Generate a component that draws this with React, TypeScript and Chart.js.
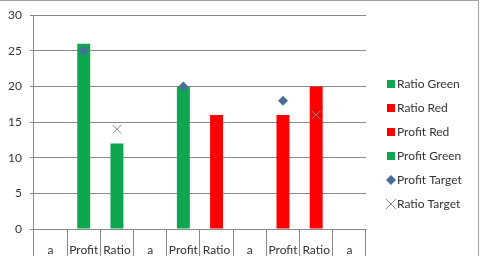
import React, { useEffect, useRef } from "react";
import { Chart, registerables } from "chart.js";

Chart.register(...registerables);

const categories = ["a", "Profit", "Ratio", "a", "Profit", "Ratio", "a", "Profit", "Ratio", "a"];
const ratioGreen = [null, null, 12, null, null, null, null, null, null, null];
const ratioRed = [null, null, null, null, null, 16, null, null, 20, null];
const profitRed = [null, null, null, null, null, null, null, 16, null, null];
const profitGreen = [null, 26, null, null, 20, null, null, null, null, null];
const profitTarget = [null, 25, null, null, 20, null, null, 18, null, null];
const ratioTarget = [null, null, 14, null, null, null, null, null, 16, null];
const yTicks = [0, 5, 10, 15, 20, 25, 30];

const GREEN = "#0fa650";
const RED = "#ff0000";
const BLUE = "#4b6d99";
const GRAY = "#8c8c8c";
const GRID = "#8a8a8a";
const TEXT = "#333333";
const FONT = "Lato";

const legendPlugin = {
  id: "customLegend",
  afterDraw(chart: any) {
    const ctx = chart.ctx;
    ctx.save();
    ctx.strokeStyle = "#a0a0a0";
    ctx.lineWidth = 1;
    ctx.beginPath();
    ctx.moveTo(0, 0.5);
    ctx.lineTo(478.5, 0.5);
    ctx.lineTo(478.5, 256);
    ctx.stroke();

    const x0 = 387;
    const y0 = 84;
    const step = 24;
    chart.data.datasets.forEach((ds: any, i: number) => {
      const cy = y0 + i * step;
      if (ds.type === "line") {
        if (ds.pointStyle === "rectRot") {
          ctx.fillStyle = ds.backgroundColor;
          ctx.beginPath();
          ctx.moveTo(x0 + 4, cy - 5);
          ctx.lineTo(x0 + 9, cy);
          ctx.lineTo(x0 + 4, cy + 5);
          ctx.lineTo(x0 - 1, cy);
          ctx.closePath();
          ctx.fill();
        } else {
          ctx.strokeStyle = ds.borderColor;
          ctx.lineWidth = 1;
          ctx.beginPath();
          ctx.moveTo(x0 - 1, cy - 5);
          ctx.lineTo(x0 + 9, cy + 5);
          ctx.moveTo(x0 + 9, cy - 5);
          ctx.lineTo(x0 - 1, cy + 5);
          ctx.stroke();
        }
      } else {
        ctx.fillStyle = ds.backgroundColor;
        ctx.fillRect(x0, cy - 4, 8, 8);
      }
      ctx.fillStyle = TEXT;
      ctx.font = `12px ${FONT}`;
      ctx.textBaseline = "middle";
      ctx.textAlign = "left";
      ctx.fillText(ds.label, x0 + 10, cy);
    });
    ctx.restore();
  },
};

export default function App() {
  const ref = useRef<HTMLCanvasElement>(null);
  useEffect(() => {
    document.body.style.margin = "0";
    const barCommon = { type: "bar", grouped: false, categoryPercentage: 1, barPercentage: 0.39, order: 2 };
    const chart = new Chart(ref.current as HTMLCanvasElement, {
      type: "bar",
      data: {
        labels: categories,
        datasets: [
          { ...barCommon, label: "Ratio Green", data: ratioGreen, backgroundColor: GREEN },
          { ...barCommon, label: "Ratio Red", data: ratioRed, backgroundColor: RED },
          { ...barCommon, label: "Profit Red", data: profitRed, backgroundColor: RED },
          { ...barCommon, label: "Profit Green", data: profitGreen, backgroundColor: GREEN },
          {
            type: "line",
            order: 1,
            label: "Profit Target",
            data: profitTarget,
            showLine: false,
            pointStyle: "rectRot",
            pointRadius: 5,
            backgroundColor: BLUE,
            borderColor: BLUE,
            borderWidth: 0,
          },
          {
            type: "line",
            order: 1,
            label: "Ratio Target",
            data: ratioTarget,
            showLine: false,
            pointStyle: "crossRot",
            pointRadius: 6,
            backgroundColor: GRAY,
            borderColor: GRAY,
            pointBorderWidth: 1,
          },
        ] as any,
      },
      options: {
        animation: false,
        responsive: false,
        layout: { padding: { left: 0, right: 114, top: 9, bottom: 0 } },
        plugins: { legend: { display: false }, tooltip: { enabled: false } },
        scales: {
          x: {
            offset: true,
            grid: {
              display: true,
              offset: true,
              drawOnChartArea: false,
              drawTicks: true,
              tickLength: 27,
              color: GRID,
            },
            border: { display: true, color: GRID },
            ticks: { color: TEXT, font: { family: FONT, size: 12 }, padding: -13, maxRotation: 0, autoSkip: false },
            afterFit(axis: any) {
              axis.height = 27;
            },
          },
          y: {
            min: 0,
            max: 30,
            afterBuildTicks(axis: any) {
              axis.ticks = yTicks.map((v) => ({ value: v }));
            },
            grid: { color: GRID, tickLength: 4, drawTicks: true },
            border: { display: true, color: GRID },
            ticks: { color: TEXT, font: { family: FONT, size: 12 }, padding: 8 },
          },
        },
      },
      plugins: [legendPlugin],
    } as any);
    return () => chart.destroy();
  }, []);
  return (
    <div style={{ width: 480, height: 256 }}>
      <canvas ref={ref} width={480} height={256} />
    </div>
  );
}
